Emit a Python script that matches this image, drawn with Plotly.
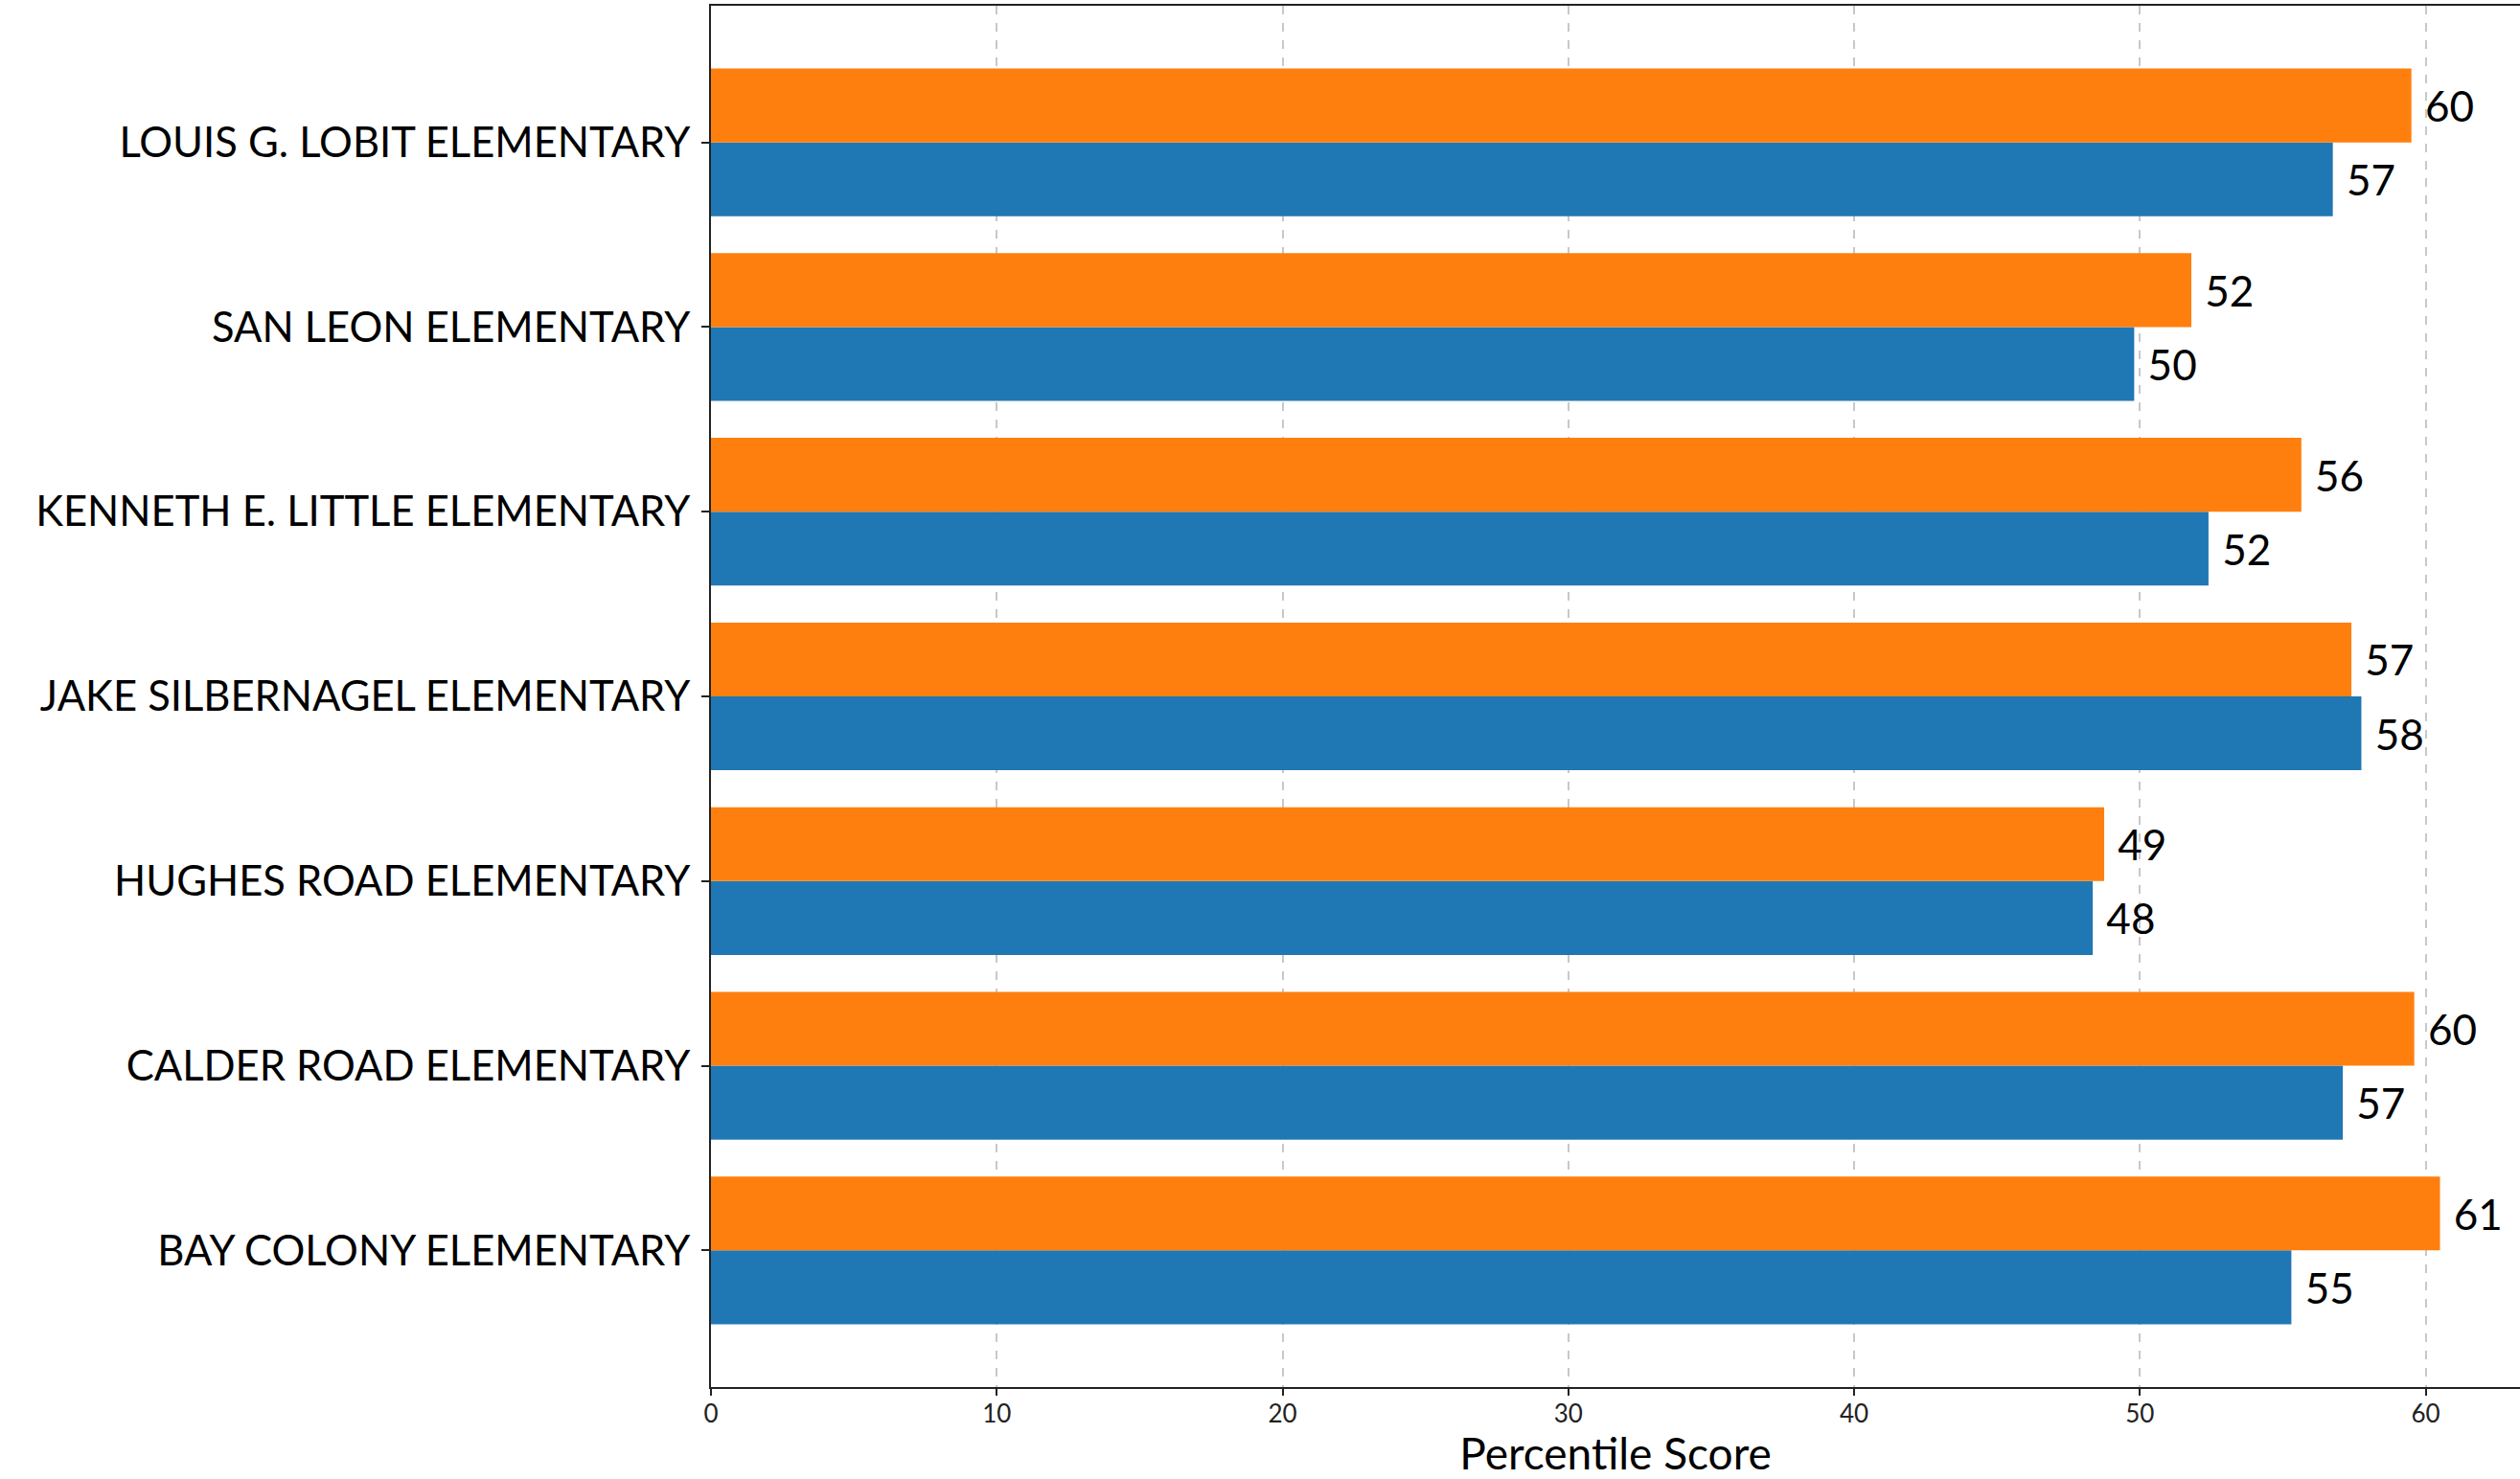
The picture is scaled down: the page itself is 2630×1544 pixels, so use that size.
import plotly.graph_objects as go

# Categories listed bottom-to-top (as on a numeric axis starting at 0)
schools = [
    "BAY COLONY ELEMENTARY",
    "CALDER ROAD ELEMENTARY",
    "HUGHES ROAD ELEMENTARY",
    "JAKE SILBERNAGEL ELEMENTARY",
    "KENNETH E. LITTLE ELEMENTARY",
    "SAN LEON ELEMENTARY",
    "LOUIS G. LOBIT ELEMENTARY",
]
blue_values = [55.3, 57.1, 48.35, 57.75, 52.4, 49.8, 56.75]
orange_values = [60.5, 59.6, 48.75, 57.4, 55.65, 51.8, 59.5]
blue_labels = ["55", "57", "48", "58", "52", "50", "57"]
orange_labels = ["61", "60", "49", "57", "56", "52", "60"]
x_ticks = [0, 10, 20, 30, 40, 50, 60]
x_tick_text = ["0", "10", "20", "30", "40", "50", "60"]

FONT = "Lato"
NB = "\u00a0"

fig = go.Figure()
fig.add_trace(go.Bar(
    y=schools, x=blue_values, orientation="h",
    marker=dict(color="#1f77b4", line=dict(width=0)),
    text=[NB + t for t in blue_labels], textposition="outside",
    textfont=dict(family=FONT, size=44, color="black"),
    constraintext="none", cliponaxis=False, showlegend=False,
))
fig.add_trace(go.Bar(
    y=schools, x=orange_values, orientation="h",
    marker=dict(color="#ff7f0e", line=dict(width=0)),
    text=[NB + t for t in orange_labels], textposition="outside",
    textfont=dict(family=FONT, size=44, color="black"),
    constraintext="none", cliponaxis=False, showlegend=False,
))

fig.update_layout(
    template="none",
    width=2630, height=1544,
    margin=dict(l=742, r=0, t=6, b=96, autoexpand=False),
    barmode="group", bargap=0.2, bargroupgap=0,
    plot_bgcolor="white", paper_bgcolor="white",
    font=dict(family=FONT, color="black", size=25),
    xaxis=dict(
        automargin=False,
        range=[0, 63.3], tickmode="array", tickvals=x_ticks, ticktext=x_tick_text,
        showgrid=True, gridcolor="#c8c8c8", gridwidth=1.5, griddash="dash",
        zeroline=False, showline=True, linecolor="#222", linewidth=2, mirror=True,
        ticks="outside", ticklen=7, tickwidth=1.5, tickcolor="#222",
        ticklabelstandoff=-3,
        tickfont=dict(family=FONT, size=26, color="#222"),
        title=dict(text="Percentile Score", font=dict(family=FONT, size=46), standoff=2),
    ),
    yaxis=dict(
        automargin=False,
        categoryorder="array", categoryarray=schools,
        range=[-0.74, 6.74],
        showgrid=False, zeroline=False, showline=True, linecolor="#222", linewidth=2,
        ticks="outside", ticklen=8, tickwidth=1.5, tickcolor="#222",
        ticklabelstandoff=3,
        tickfont=dict(family=FONT, size=43.5),
    ),
)

fig.write_html(
    "out.html",
    config={"displayModeBar": False},
    post_script="document.body.style.margin='0';document.body.style.overflow='hidden';",
)
